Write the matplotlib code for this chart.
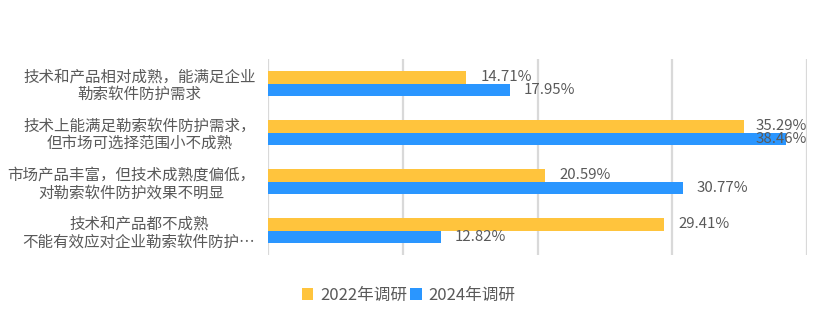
import matplotlib
matplotlib.use("Agg")
import matplotlib.pyplot as plt
import numpy as np

plt.rcParams['font.family'] = ['Noto Sans CJK SC', 'DejaVu Sans']

categories = [
    "技术和产品相对成熟，能满足企业\n勒索软件防护需求",
    "技术上能满足勒索软件防护需求，\n但市场可选择范围小不成熟",
    "市场产品丰富，但技术成熟度偏低，\n对勒索软件防护效果不明显",
    "技术和产品都不成熟\n不能有效应对企业勒索软件防护…",
]
series_names = ["2022年调研", "2024年调研"]
values_2022 = [14.71, 35.29, 20.59, 29.41]
values_2024 = [17.95, 38.46, 30.77, 12.82]
xticks = [0, 10, 20, 30, 40]

colors = ["#FFC43D", "#2A96FF"]
text_color = "#595959"

fig = plt.figure(figsize=(8.17, 3.24), dpi=100)
ax = fig.add_axes([268/817, 1-255/324, (807-268)/817, (255-59)/324])

n = len(categories)
y = np.arange(n)
h = 0.255
ax.barh(y - h/2, values_2022, height=h, color=colors[0], label=series_names[0], zorder=3)
ax.barh(y + h/2, values_2024, height=h, color=colors[1], label=series_names[1], zorder=3)

ax.set_xlim(xticks[0], xticks[-1])
ax.set_ylim(n - 0.5, -0.5)
ax.set_xticks(xticks)
ax.grid(axis='x', color="#D9D9D9", linewidth=1.6, zorder=0)
ax.tick_params(axis='x', length=0, labelbottom=False)
ax.tick_params(axis='y', length=0, pad=9)
ax.set_yticks(y)
ax.set_yticklabels(categories, fontsize=11.2, color=text_color, multialignment='center',
                   linespacing=1.05)
for s in ax.spines.values():
    s.set_visible(False)

offset = 1.05
label_width = 4.1
for vals, dy in ((values_2022, -h/2), (values_2024, h/2)):
    for i, v in enumerate(vals):
        txt = f"{v:.2f}%"
        if v + offset + label_width > xticks[-1]:
            ax.text(xticks[-1], i + dy, txt, ha='right', va='center', fontsize=10.8,
                    color=text_color, zorder=4)
        else:
            ax.text(v + offset, i + dy, txt, ha='left', va='center', fontsize=10.8,
                    color=text_color, zorder=4)

fig.legend(loc='center', bbox_to_anchor=(0.5, 1-295/324), ncol=2, frameon=False,
           fontsize=12, labelcolor=text_color, handlelength=0.7, handleheight=0.7,
           handletextpad=0.4, columnspacing=0.2)

fig.savefig("out.png", dpi=100)
